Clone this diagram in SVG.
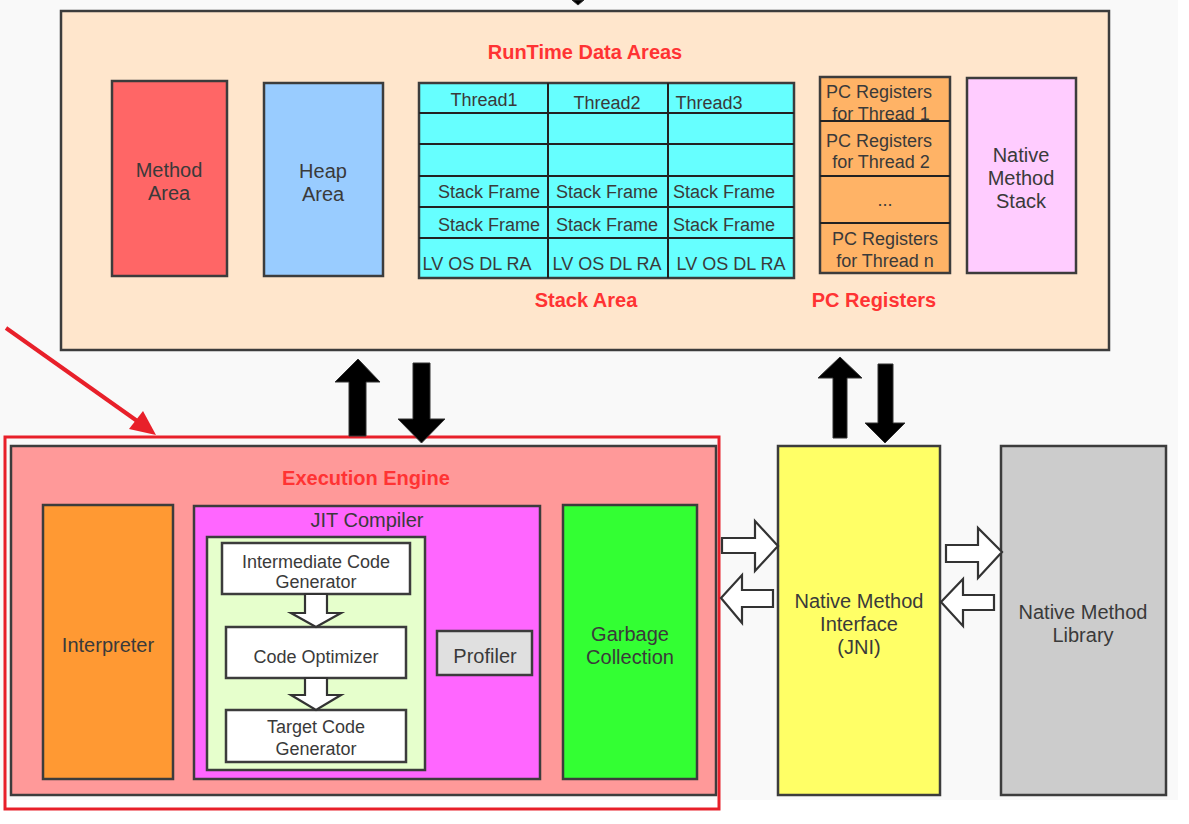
<svg xmlns="http://www.w3.org/2000/svg" width="1189" height="824" viewBox="0 0 1189 824">
<style>
.box{stroke:#3c3c3c;stroke-width:2.5}
.t{font-family:"Liberation Sans",Arial,sans-serif;fill:#3a3a3a;text-anchor:middle}
.t20{font-size:20px}
.t18{font-size:18px}
.title{font-family:"Liberation Sans",Arial,sans-serif;font-size:20px;font-weight:bold;fill:#ff3333;text-anchor:middle}
.solid{fill:#000;stroke:#333;stroke-width:1}
.hollow{fill:#fff;stroke:#333;stroke-width:2.2;stroke-linejoin:miter}
.grid{stroke:#222;stroke-width:2;fill:none}
</style>
<rect x="0" y="0" width="1189" height="824" fill="#ffffff"/>
<rect x="0" y="0" width="1178" height="800" fill="#f9f9f9"/>

<g id="runtime-data-areas">
<rect class="box" x="61" y="11" width="1048" height="339" fill="#ffe6cc"/>
<text class="title" x="585" y="59">RunTime Data Areas</text>
<text class="title" x="586" y="307">Stack Area</text>
<text class="title" x="874" y="307">PC Registers</text>
</g>

<g id="method-area">
<rect class="box" x="112" y="81" width="115" height="195" fill="#ff6666"/>
<text class="t t20" x="169" y="177">Method</text>
<text class="t t20" x="169" y="200">Area</text>
</g>

<g id="heap-area">
<rect class="box" x="264" y="83" width="119" height="193" fill="#99ccff"/>
<text class="t t20" x="323" y="178">Heap</text>
<text class="t t20" x="323" y="201">Area</text>
</g>

<g id="stack-area">
<rect class="box" x="419" y="83" width="375" height="195" fill="#66ffff"/>
<path class="grid" d="M419 113H794M419 144H794M419 176H794M419 207H794M419 238H794M548 83V278M668 83V278"/>
<text class="t t18" x="484" y="106">Thread1</text>
<text class="t t18" x="607" y="109">Thread2</text>
<text class="t t18" x="709" y="109">Thread3</text>
<text class="t t18" x="489" y="198">Stack Frame</text>
<text class="t t18" x="607" y="198">Stack Frame</text>
<text class="t t18" x="724" y="198">Stack Frame</text>
<text class="t t18" x="489" y="231">Stack Frame</text>
<text class="t t18" x="607" y="231">Stack Frame</text>
<text class="t t18" x="724" y="231">Stack Frame</text>
<text class="t t18" x="477" y="270">LV OS DL RA</text>
<text class="t t18" x="607" y="270">LV OS DL RA</text>
<text class="t t18" x="731" y="270">LV OS DL RA</text>
</g>

<g id="pc-registers">
<rect class="box" x="820" y="77" width="130" height="196" fill="#ffb366"/>
<path class="grid" d="M820 121H950M820 176H950M820 223H950"/>
<text class="t t18" x="879" y="98">PC Registers</text>
<text class="t t18" x="881" y="120">for Thread 1</text>
<text class="t t18" x="879" y="147">PC Registers</text>
<text class="t t18" x="881" y="168">for Thread 2</text>
<text class="t t18" x="885" y="206">...</text>
<text class="t t18" x="885" y="245">PC Registers</text>
<text class="t t18" x="885" y="267">for Thread n</text>
</g>

<g id="native-method-stack">
<rect class="box" x="967" y="78" width="109" height="195" fill="#ffccff"/>
<text class="t t20" x="1021" y="162">Native</text>
<text class="t t20" x="1021" y="185">Method</text>
<text class="t t20" x="1021" y="208">Stack</text>
</g>

<g id="execution-engine">
<rect class="box" x="11" y="446" width="705" height="349" fill="#ff9999"/>
<text class="title" x="366" y="485">Execution Engine</text>
</g>

<g id="interpreter">
<rect class="box" x="43" y="505" width="130" height="274" fill="#ff9933"/>
<text class="t t20" x="108" y="652">Interpreter</text>
</g>

<g id="jit-compiler">
<rect class="box" x="194" y="506" width="346" height="273" fill="#ff66ff"/>
<text class="t t20" x="367" y="527">JIT Compiler</text>
<rect class="box" x="207" y="537" width="218" height="233" fill="#e6ffcc"/>
</g>

<g id="intermediate-code-generator">
<rect class="box" x="222" y="543" width="188" height="51" fill="#ffffff"/>
<text class="t t18" x="316" y="568">Intermediate Code</text>
<text class="t t18" x="316" y="588">Generator</text>
</g>

<g id="code-optimizer">
<rect class="box" x="226" y="627" width="180" height="51" fill="#ffffff"/>
<text class="t t18" x="316" y="663">Code Optimizer</text>
</g>

<g id="target-code-generator">
<rect class="box" x="226" y="710" width="180" height="52" fill="#ffffff"/>
<text class="t t18" x="316" y="733">Target Code</text>
<text class="t t18" x="316" y="755">Generator</text>
</g>

<g id="profiler">
<rect class="box" x="437" y="631" width="95" height="44" fill="#e0e0e0"/>
<text class="t t20" x="485" y="663">Profiler</text>
</g>

<g id="garbage-collection">
<rect class="box" x="563" y="505" width="134" height="274" fill="#33ff33"/>
<text class="t t20" x="630" y="641">Garbage</text>
<text class="t t20" x="630" y="664">Collection</text>
</g>

<g id="jni">
<rect class="box" x="778" y="446" width="162" height="349" fill="#ffff66"/>
<text class="t t20" x="859" y="608">Native Method</text>
<text class="t t20" x="859" y="631">Interface</text>
<text class="t t20" x="859" y="654">(JNI)</text>
</g>

<g id="native-method-library">
<rect class="box" x="1001" y="446" width="165" height="349" fill="#cccccc"/>
<text class="t t20" x="1083" y="619">Native Method</text>
<text class="t t20" x="1083" y="642">Library</text>
</g>

<g id="highlight">
<rect x="5" y="437" width="714" height="372" fill="none" stroke="#e8202a" stroke-width="3"/>
<line x1="6" y1="328" x2="140" y2="423" stroke="#e8202a" stroke-width="4"/>
<polygon points="156,435 129,429 143,411" fill="#e8202a"/>
</g>

<g id="connectors">
<polygon class="solid" points="572,0 584,0 578,5"/>
<polygon class="solid" points="358,359 380,382 366,382 366,436 349,436 349,382 335,382"/>
<polygon class="solid" points="413,363 430,363 430,419 445,419 421.5,443 398,419 413,419"/>
<polygon class="solid" points="840,357 862,378 847,378 847,438 833,438 833,378 818,378"/>
<polygon class="solid" points="878,364 893,364 893,423 905,423 885,443 865,423 878,423"/>
<polygon class="hollow" points="722,538 755,538 755,521 778,546 755,571 755,553 722,553"/>
<polygon class="hollow" points="773,590 742,590 742,575 721,598 742,623 742,607 773,607"/>
<polygon class="hollow" points="946,545 978,545 978,528 1002,552 978,578 978,562 946,562"/>
<polygon class="hollow" points="994,595 963,595 963,579 941,602 963,626 963,610 994,610"/>
<polygon class="hollow" points="305,594 327,594 327,613 341,613 316,627 291,613 305,613"/>
<polygon class="hollow" points="305,678 327,678 327,695 341,695 316,710 291,695 305,695"/>
</g>
</svg>
